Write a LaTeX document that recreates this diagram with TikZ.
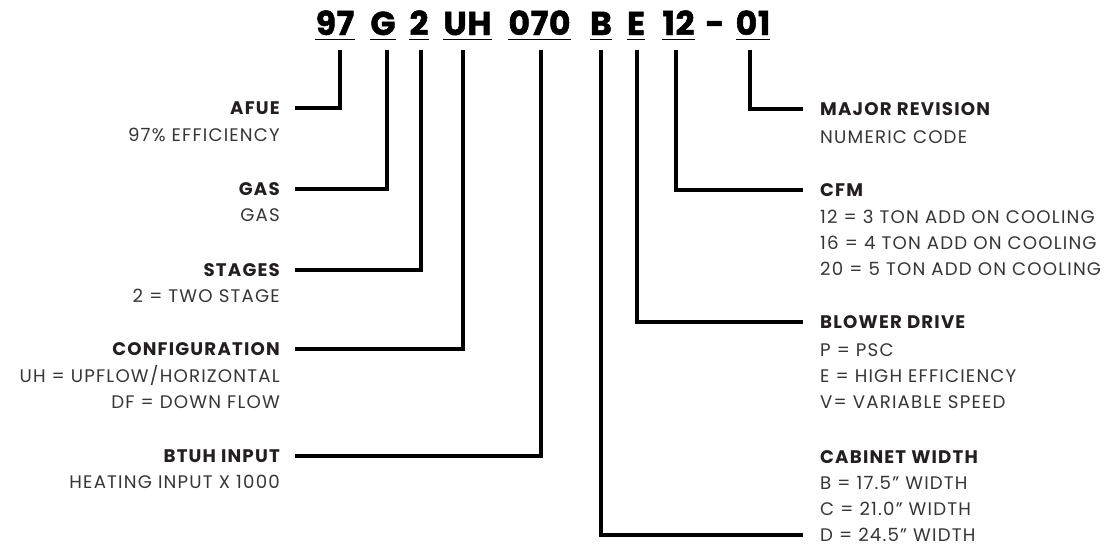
\documentclass[tikz,border=0pt]{standalone}
\usepackage{fontspec}
\setmainfont{Poppins}[LetterSpace=6.5]
\newfontfamily\codefont{Poppins}[LetterSpace=2, FakeBold=1.5]
\definecolor{lblc}{HTML}{231F20}
\definecolor{txtc}{HTML}{363636}
\begin{document}
\begin{tikzpicture}[x=1pt,y=-1pt,
  code/.style={font=\codefont\fontsize{33}{33}\selectfont\bfseries, inner sep=0pt, anchor=base, text=black},
  lbl/.style={font=\fontsize{18.2}{18.2}\selectfont\bfseries, text=lblc, inner sep=0pt, text height=12.8pt, text depth=0pt},
  desc/.style={font=\fontsize{18.2}{18.2}\selectfont, text=txtc, inner sep=0pt, text height=12.8pt, text depth=0pt},
  conn/.style={line width=3.3pt, draw=black},
  uline/.style={line width=1.3pt, draw=black}]
\useasboundingbox (0,0) rectangle (1109,546);
% code segments
\node[code] (c97) at (335,35) {97};
\node[code] (cG) at (383,35) {G};
\node[code] (c2) at (419,35) {2};
\node[code] (cUH) at (467.5,35) {UH};
\node[code] (c070) at (539.5,35) {070};
\node[code] (cB) at (601,35) {B};
\node[code] (cE) at (636,35) {E};
\node[code] (c12) at (678.5,35) {12};
\node[code] (cdash) at (715,35) {-};
\node[code] (c01) at (753,35) {01};
\foreach \s in {c97,cG,c2,cUH,c070,cB,cE,c12,c01}
  \draw[uline] ([yshift=-4.5pt]\s.base west) -- ([yshift=-4.5pt]\s.base east);
% tick tops
\coordinate (t97) at (340,50);
\coordinate (tG) at (387,50);
\coordinate (t2) at (421,50);
\coordinate (tUH) at (463,50);
\coordinate (t070) at (541,50);
\coordinate (tB) at (601,50);
\coordinate (tE) at (637,50);
\coordinate (t12) at (676,50);
\coordinate (t01) at (750,50);
% left labels
\node[lbl, anchor=east] (afue) at (280,108) {AFUE};
\node[desc, anchor=east] (afue1) at (280,135) {97\% EFFICIENCY};
\node[lbl, anchor=east] (gas) at (280,189) {GAS};
\node[desc, anchor=east] (gas1) at (280,215) {GAS};
\node[lbl, anchor=east] (stages) at (280,270) {STAGES};
\node[desc, anchor=east] (stages1) at (280,296) {2 = TWO STAGE};
\node[lbl, anchor=east] (config) at (280,349) {CONFIGURATION};
\node[desc, anchor=east] (config1) at (280,376) {UH = UPFLOW/HORIZONTAL};
\node[desc, anchor=east] (config2) at (280,402) {DF = DOWN FLOW};
\node[lbl, anchor=east] (btuh) at (280,456) {BTUH INPUT};
\node[desc, anchor=east] (btuh1) at (280,482) {HEATING INPUT X 1000};
% right labels
\node[lbl, anchor=west] (major) at (820,109) {MAJOR REVISION};
\node[desc, anchor=west] (major1) at (820,137) {NUMERIC CODE};
\node[lbl, anchor=west] (cfm) at (820,190) {CFM};
\node[desc, anchor=west] (cfm1) at (820,217) {12 = 3 TON ADD ON COOLING};
\node[desc, anchor=west] (cfm2) at (820,243) {16 = 4 TON ADD ON COOLING};
\node[desc, anchor=west] (cfm3) at (820,269) {20 = 5 TON ADD ON COOLING};
\node[lbl, anchor=west] (blower) at (820,322) {BLOWER DRIVE};
\node[desc, anchor=west] (blower1) at (820,350) {P = PSC};
\node[desc, anchor=west] (blower2) at (820,376) {E = HIGH EFFICIENCY};
\node[desc, anchor=west] (blower3) at (820,402) {V= VARIABLE SPEED};
\node[lbl, anchor=west] (cab) at (820,457) {CABINET WIDTH};
\node[desc, anchor=west] (cab1) at (820,483) {B = 17.5” WIDTH};
\node[desc, anchor=west] (cab2) at (820,509) {C = 21.0” WIDTH};
\node[desc, anchor=west] (cab3) at (820,535) {D = 24.5” WIDTH};
% connectors
\draw[conn] (t97) |- ([xshift=15pt]afue.east);
\draw[conn] (tG) |- ([xshift=15pt]gas.east);
\draw[conn] (t2) |- ([xshift=15pt]stages.east);
\draw[conn] (tUH) |- ([xshift=15pt]config.east);
\draw[conn] (t070) |- ([xshift=15pt]btuh.east);
\draw[conn] (t01) |- ([xshift=-17pt]major.west);
\draw[conn] (t12) |- ([xshift=-17pt]cfm.west);
\draw[conn] (tE) |- ([xshift=-17pt]blower.west);
\draw[conn] (tB) |- ([xshift=-17pt]cab3.west);
\end{tikzpicture}
\end{document}
